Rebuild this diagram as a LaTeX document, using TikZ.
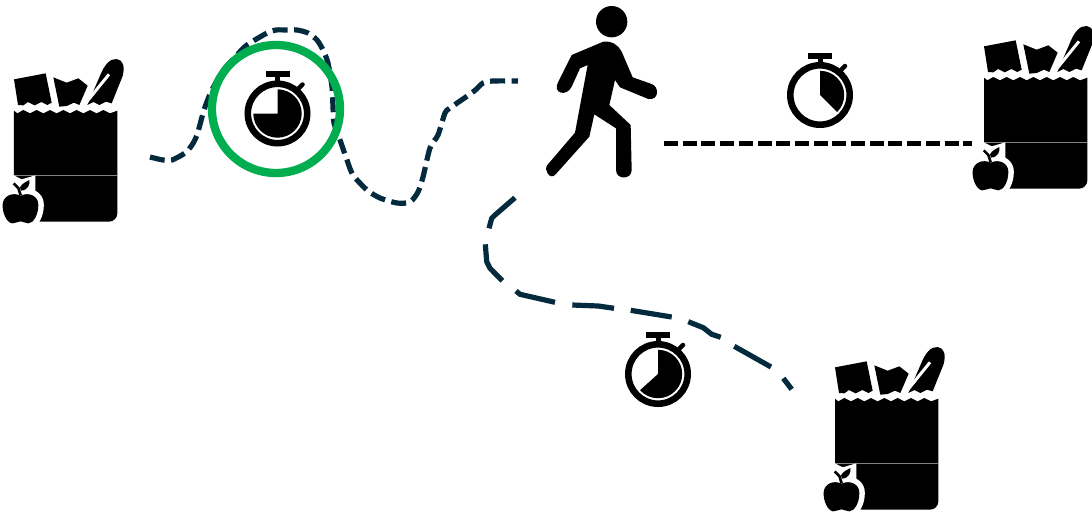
\documentclass[tikz,border=0pt]{standalone}
\definecolor{pathnavy}{HTML}{042A3E}
\definecolor{ringgreen}{HTML}{00AE4F}
\tikzset{
  route/.style={pathnavy,line width=5.2pt},
  directline/.style={black,line width=5pt,dash pattern=on 14pt off 4.7pt},
  sweep/.initial=0,
  stopwatch/.pic={
    \begin{scope}[x=1pt,y=1pt]
      \draw[line width=6.6pt] (0,0) circle (29.7);
      \fill (-12,36.5) rectangle (12,42.5);
      \fill (-2.5,30) rectangle (2.5,37);
      \draw[line width=4.5pt,line cap=round] (21,25) -- (25,29);
      \fill (0,0) -- (90:24.2) arc[start angle=90,end angle=\pgfkeysvalueof{/tikz/sweep},radius=24.2] -- cycle;
    \end{scope}
  },
  grocerybag/.pic={
    \begin{scope}[x=0.33333pt,y=-0.33333pt]
      % body
      \fill[line join=round] (42,182) -- (52,190) -- (70,180) -- (90,190) -- (110,180) -- (130,190) -- (150,180) -- (170,190) -- (190,180) -- (210,190) -- (230,180) -- (250,190) -- (270,180) -- (290,190) -- (310,180) -- (330,190) -- (352,182)
        -- (352,490) arc[start angle=0,end angle=90,radius=25] -- (42,515) -- cycle;
      \draw[gray,line width=0.5pt] (42,377) -- (352,377);
      % box
      \fill (42,88) -- (137,70) -- (155,158) -- (142,165) -- (124,156) -- (104,166) -- (84,156) -- (70,166) -- (54,165) -- cycle;
      % second item
      \fill (160,82) -- (200,98) -- (235,85) -- (263,107) -- (238,165) -- (222,158) -- (200,168) -- (178,170) -- cycle;
      % baguette
      \fill (262,165) -- (298,82) .. controls (312,45) and (330,25) .. (350,27) .. controls (370,30) and (375,50) .. (368,78) -- (335,160) -- (318,155) -- (298,165) -- (280,156) -- cycle;
      \draw[white,line width=3pt] (327,73) -- (258,158);
      % apple
      \path[fill=white,draw=white,line width=11pt,line join=round] (8,462) .. controls (10,438) and (38,425) .. (62,437) .. controls (86,425) and (116,438) .. (115,465) .. controls (115,495) and (100,520) .. (85,520) .. controls (75,520) and (69,514) .. (62,514) .. controls (55,514) and (47,520) .. (37,520) .. controls (22,520) and (6,490) .. (8,462) -- cycle;
      \fill[white] (30,376) -- (42,376) -- (65,388) -- (106,376) -- (106,430) -- (60,445) -- (30,440) -- cycle;
      \fill (8,462) .. controls (10,438) and (38,425) .. (62,437) .. controls (86,425) and (116,438) .. (115,465) .. controls (115,495) and (100,520) .. (85,520) .. controls (75,520) and (69,514) .. (62,514) .. controls (55,514) and (47,520) .. (37,520) .. controls (22,520) and (6,490) .. (8,462) -- cycle;
      \draw[line width=2.6pt] (41,400) -- (55,414) -- (62,436);
      \fill (60,412) .. controls (66,400) and (78,396) .. (88,390) .. controls (90,405) and (84,420) .. (63,422) -- cycle;
    \end{scope}
  },
  walker/.pic={
    \begin{scope}[x=0.33333pt,y=-0.33333pt]
      \fill (215,65) circle[radius=47];
      \fill (95,165) -- (190,125) .. controls (215,122) and (235,135) .. (245,155) -- (278,232) -- (335,252)
        .. controls (358,260) and (358,302) .. (325,297) -- (240,262) -- (225,240) -- (208,315) -- (272,375) -- (275,510)
        .. controls (275,540) and (228,540) .. (228,510) -- (228,385) -- (163,343) -- (148,410) -- (45,525)
        .. controls (30,540) and (10,510) .. (22,495) -- (105,398) -- (143,195) -- (120,205) -- (95,260)
        .. controls (80,292) and (35,280) .. (55,245) -- cycle;
    \end{scope}
  }
}
\begin{document}
\begin{tikzpicture}[x=1pt,y=-1pt]
\useasboundingbox (0,0) rectangle (1092,515);
% route ends
\coordinate (r1s) at (150,157);
\coordinate (r1e) at (518,81);
\coordinate (r2s) at (515,197.7);
\coordinate (r2e) at (791.7,389.3);
\coordinate (lineS) at (664,143.5);
\coordinate (lineE) at (972,143.5);
\draw[route,dash pattern=on 15pt off 6.5pt] plot[smooth,tension=0.45] coordinates {(r1s) (163,160) (172,160) (185,153) (192,145) (197,135) (202,117) (205,107) (211,92) (222,72) (237,55) (247,45) (267,33) (276,30) (287,30) (297,30) (308,33) (317,40) (323,50) (328,63) (332,87) (333,107) (334,123) (340,140) (347,160) (353,175) (367,190) (380,198) (397,203) (410,202) (418,192) (423,177) (430,148) (438,135) (445,113) (450,108) (473,92) (483,83) (493,81) (r1e)};
\draw[route,line join=round] (r2s) -- (495,215) -- (491.7,218.3) -- (489,228.3)
  (485.3,244.3) -- (486.7,261.7) -- (490,268.3) -- (502.3,280.7)
  (516,291) -- (520,294.3) -- (555,302.3)
  (572.3,305) -- (598.3,306) -- (614,308.3)
  (630.7,310.3) -- (671.7,317)
  (688.3,321.7) -- (703.3,327.7) -- (711.7,334.3) -- (720.7,337.3)
  (734.3,346.3) -- (771,367)
  (783.3,378.3) -- (r2e);
\draw[directline] (lineS) -- (lineE);
% green ring
\node[draw=ringgreen,line width=8.3pt,circle,minimum size=128pt,inner sep=0pt] (ring) at (276,109) {};
% stopwatches
\pic[sweep=-180] at (277.5,113.5) {stopwatch};
\pic[sweep=-45] at (820,95) {stopwatch};
\pic[sweep=-138] at (658,374) {stopwatch};
% walker
\pic at (540,0) {walker};
% bags
\pic at (0,50) {grocerybag};
\pic at (970,17) {grocerybag};
\pic at (821,338) {grocerybag};
\end{tikzpicture}
\end{document}
